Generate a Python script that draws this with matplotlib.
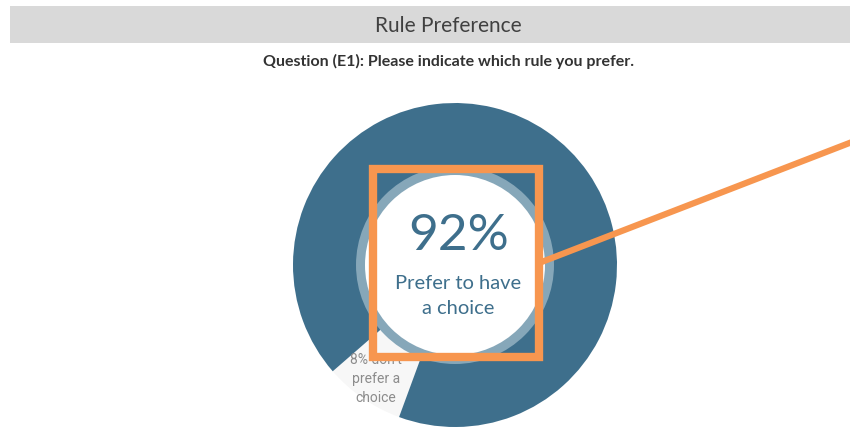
import matplotlib
matplotlib.use("Agg")
from matplotlib import pyplot as plt
from matplotlib.patches import Rectangle, Circle

# survey answer shares
labels = ["Don't prefer a choice", "Prefer to have a choice"]
shares = [8, 92]
pie_colors = ["#f7f7f7", "#3e6f8c"]
title = "Rule Preference"
question = "Question (E1): Please indicate which rule you prefer."
big_label = "92%"
big_caption = "Prefer to have\na choice"
small_label = "8% don't\nprefer a\nchoice"

W, H = 850, 435
fig = plt.figure(figsize=(W / 100, H / 100), dpi=100)
ax = fig.add_axes([0, 0, 1, 1])

def py(y):
    # pixel row from top -> data y
    return H - y

# header band
ax.add_patch(Rectangle((10, py(44)), W - 10, 37, facecolor="#d9d9d9", edgecolor="none", zorder=1))
ax.text(448, py(26), title, ha="center", va="center", fontsize=15, color="#404040",
        family=["Lato", "DejaVu Sans"], zorder=2)
ax.text(449, py(61), question, ha="center", va="center", fontsize=11.5, color="#333333",
        family=["Lato", "DejaVu Sans"], fontweight="bold", zorder=2)

cx, cy = 455, py(266)
ax.pie(shares, colors=pie_colors, startangle=221, counterclock=True,
       center=(cx, cy), radius=162, wedgeprops=dict(linewidth=0), frame=True)
ax.set_xlim(0, W)
ax.set_ylim(0, H)
ax.set_aspect("equal")
ax.axis("off")

# inner ring + hole
ax.add_patch(Circle((cx, cy), 99, facecolor="#86a7b9", edgecolor="none", zorder=3))
ax.add_patch(Circle((cx, cy), 90, facecolor="white", edgecolor="none", zorder=4))

ax.text(376, py(379), small_label, ha="center", va="center", fontsize=10, color="#8c8c8c",
        family=["Roboto", "DejaVu Sans"], linespacing=1.45, zorder=5)

ax.text(459, py(236), big_label, ha="center", va="center", fontsize=37, color="#3e6f8c",
        family=["Lato", "DejaVu Sans"], zorder=5)
ax.text(458, py(296), big_caption, ha="center", va="center", fontsize=14.5, color="#3e6f8c",
        family=["Lato", "DejaVu Sans"], linespacing=1.6, zorder=5)

# orange callout
orange = "#f7964f"
ax.add_patch(Rectangle((373, py(358)), 166, 188, facecolor="none", edgecolor=orange,
                       linewidth=6, zorder=6, joinstyle="miter"))
ax.plot([539, 852], [py(264), py(143)], color=orange, linewidth=4.5, solid_capstyle="butt", zorder=6)

fig.savefig("out.png", dpi=100)
